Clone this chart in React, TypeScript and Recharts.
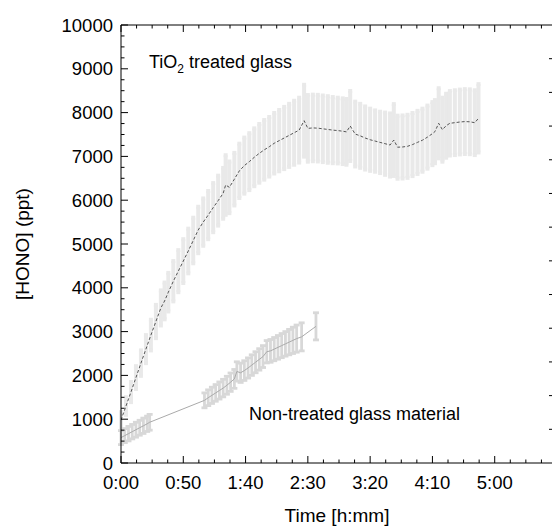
import React from "react";
import { LineChart, Line, XAxis, YAxis, ErrorBar } from "recharts";

// time in minutes since start, HONO in ppt, error = half length of the bar
const treatedTime = [
  0, 4, 8, 12, 16, 20, 24, 28, 32, 35, 38, 42, 46, 50, 54, 58, 62, 66, 70, 74,
  78, 82, 84, 87, 91, 95, 99, 103, 107, 111, 115, 119, 123, 127, 131, 135, 139,
  143, 147, 150, 154, 158, 162, 166, 170, 174, 178, 181, 184, 188, 192, 196,
  200, 204, 208, 212, 216, 219, 222, 226, 230, 234, 238, 242, 246, 250, 252,
  255, 258, 261, 264, 268, 272, 276, 280, 284, 287,
];
const treatedHono = [
  980, 1300, 1620, 1950, 2280, 2600, 2920, 3230, 3540, 3700, 3900, 4150, 4380,
  4610, 4840, 5080, 5320, 5500, 5660, 5830, 5990, 6157, 6347, 6294, 6480, 6670,
  6790, 6880, 6980, 7070, 7150, 7220, 7300, 7360, 7420, 7480, 7540, 7600, 7815,
  7640, 7650, 7645, 7630, 7615, 7600, 7590, 7575, 7560, 7694, 7510, 7470, 7420,
  7380, 7350, 7320, 7290, 7260, 7374, 7210, 7215, 7230, 7270, 7320, 7370, 7440,
  7520, 7565, 7756, 7610, 7700, 7756, 7770, 7785, 7795, 7790, 7770, 7870,
];
const treatedErr = [
  180, 200, 230, 260, 290, 320, 350, 380, 400, 420, 440, 460, 480, 500, 510,
  520, 530, 540, 550, 560, 570, 580, 680, 590, 600, 620, 640, 650, 660, 670,
  680, 680, 690, 700, 710, 720, 730, 740, 820, 760, 760, 760, 760, 760, 755,
  750, 750, 750, 800, 740, 730, 720, 710, 700, 700, 710, 720, 820, 720, 720,
  720, 720, 720, 720, 720, 720, 720, 800, 730, 730, 735, 740, 740, 740, 740,
  740, 780,
];

const plainTime = [
  0, 3, 6, 9, 12, 15, 18, 21, 23, 67, 70, 73, 76, 79, 82, 85, 88, 91, 93, 96,
  99, 102, 105, 108, 111, 114, 117, 120, 123, 126, 129, 132, 135, 138, 141, 145,
  156.5,
];
const plainHono = [
  580, 625, 670, 715, 760, 805, 850, 895, 930, 1430, 1490, 1545, 1600, 1655,
  1710, 1775, 1845, 1920, 2090, 2060, 2110, 2170, 2235, 2300, 2365, 2430, 2540,
  2560, 2600, 2640, 2680, 2720, 2760, 2800, 2840, 2880, 3120,
];
const plainErr = [
  160, 160, 165, 165, 170, 170, 175, 175, 180, 170, 180, 185, 190, 195, 200,
  205, 210, 215, 220, 220, 225, 230, 235, 240, 245, 250, 255, 260, 265, 270,
  275, 280, 290, 300, 310, 320, 310,
];

const xMajor = [0, 50, 100, 150, 200, 250, 300];
const xLabels = ["0:00", "0:50", "1:40", "2:30", "3:20", "4:10", "5:00"];
const yMajor = [0, 1000, 2000, 3000, 4000, 5000, 6000, 7000, 8000, 9000, 10000];
const rightTicks = [1, 2, 3, 4, 5, 6, 7, 8, 9, 10, 11, 12];

const xTicks = Array.from({ length: 28 }, (_, i) => i * 12.5);
const yTicks = Array.from({ length: 41 }, (_, i) => i * 250);

const treated = treatedTime.map((t, i) => ({ t, v: treatedHono[i], e: treatedErr[i] }));
const plain = plainTime.map((t, i) => ({ t, v: plainHono[i], e: plainErr[i] }));

const FONT = "'Liberation Sans', Arial, sans-serif";

const BottomTick = (props: any) => {
  const { x, y, payload } = props;
  const i = xMajor.indexOf(payload.value);
  return (
    <g>
      <line x1={x} x2={x} y1={y} y2={y - (i >= 0 ? 7 : 3.5)} stroke="#000" />
      {i >= 0 && (
        <text x={x} y={y + 26} textAnchor="middle" fontSize={18.5} fontFamily={FONT} fill="#000">
          {xLabels[i]}
        </text>
      )}
    </g>
  );
};

const TopTick = (props: any) => {
  const { x, y, payload } = props;
  const major = xMajor.includes(payload.value);
  return <line x1={x} x2={x} y1={y} y2={y + (major ? 7 : 3.5)} stroke="#000" />;
};

const LeftTick = (props: any) => {
  const { x, y, payload } = props;
  const major = yMajor.includes(payload.value);
  return (
    <g>
      <line x1={x} x2={x + (major ? 7 : 3.5)} y1={y} y2={y} stroke="#000" />
      {major && (
        <text x={x - 8} y={y + 6.5} textAnchor="end" fontSize={18.5} fontFamily={FONT} fill="#000">
          {payload.value}
        </text>
      )}
    </g>
  );
};

const RightTick = (props: any) => {
  const { x, y } = props;
  return <line x1={x} x2={x - 8} y1={y} y2={y} stroke="#000" />;
};

export default function App() {
  return (
    <div
      style={{
        position: "fixed",
        left: 0,
        top: 0,
        width: 552,
        height: 527,
        overflow: "hidden",
        background: "#fff",
      }}
    >
      <LineChart width={560} height={527} margin={{ top: 24, right: 2, bottom: 63, left: 120 }}>
        <XAxis
          type="number"
          dataKey="t"
          domain={[0, 350]}
          allowDataOverflow
          ticks={xTicks}
          interval={0}
          tickSize={0}
          tickMargin={0}
          tickLine={false}
          tick={<BottomTick />}
          height={1}
          axisLine={{ stroke: "#000" }}
        />
        <XAxis
          xAxisId="top"
          orientation="top"
          type="number"
          dataKey="t"
          domain={[0, 350]}
          allowDataOverflow
          ticks={xTicks}
          interval={0}
          tickSize={0}
          tickMargin={0}
          tickLine={false}
          tick={<TopTick />}
          height={1}
          axisLine={{ stroke: "#000" }}
        />
        <YAxis
          type="number"
          domain={[0, 10000]}
          allowDataOverflow
          ticks={yTicks}
          interval={0}
          tickSize={0}
          tickMargin={0}
          tickLine={false}
          tick={<LeftTick />}
          width={1}
          axisLine={{ stroke: "#000" }}
        />
        <YAxis
          yAxisId="right"
          orientation="right"
          type="number"
          domain={[0, 13]}
          allowDataOverflow
          ticks={rightTicks}
          interval={0}
          tickSize={0}
          tickMargin={0}
          tickLine={false}
          tick={<RightTick />}
          width={1}
          axisLine={{ stroke: "#000" }}
        />

        {/* error bands first, lines on top */}
        <Line data={treated} dataKey="v" stroke="none" dot={false} isAnimationActive={false}>
          <ErrorBar dataKey="e" direction="y" width={2} stroke="#e9e9e9" strokeWidth={4} isAnimationActive={false} />
        </Line>
        <Line data={plain} dataKey="v" stroke="none" dot={false} isAnimationActive={false}>
          <ErrorBar dataKey="e" direction="y" width={3} stroke="#d8d8d8" strokeWidth={2.8} isAnimationActive={false} />
        </Line>
        <Line
          data={treated}
          dataKey="v"
          stroke="#555"
          strokeWidth={1}
          strokeDasharray="3 2"
          dot={false}
          isAnimationActive={false}
        />
        <Line data={plain} dataKey="v" stroke="#aaa" strokeWidth={1} dot={false} isAnimationActive={false} />
      </LineChart>

      <svg
        width={552}
        height={527}
        style={{ position: "absolute", left: 0, top: 0, pointerEvents: "none" }}
        fontFamily={FONT}
      >
        <text x={149} y={68} fontSize={18} fill="#000">
          TiO
          <tspan fontSize={12} dy={5}>2</tspan>
          <tspan dy={-5}> treated glass</tspan>
        </text>
        <text x={249} y={420} fontSize={18} fill="#000">
          Non-treated glass material
        </text>
        <text x={337} y={522} fontSize={19} textAnchor="middle" fill="#000">
          Time [h:mm]
        </text>
        <text
          x={29}
          y={244}
          fontSize={19}
          textAnchor="middle"
          fill="#000"
          transform="rotate(-90 29 244)"
        >
          [HONO] (ppt)
        </text>
      </svg>
    </div>
  );
}
